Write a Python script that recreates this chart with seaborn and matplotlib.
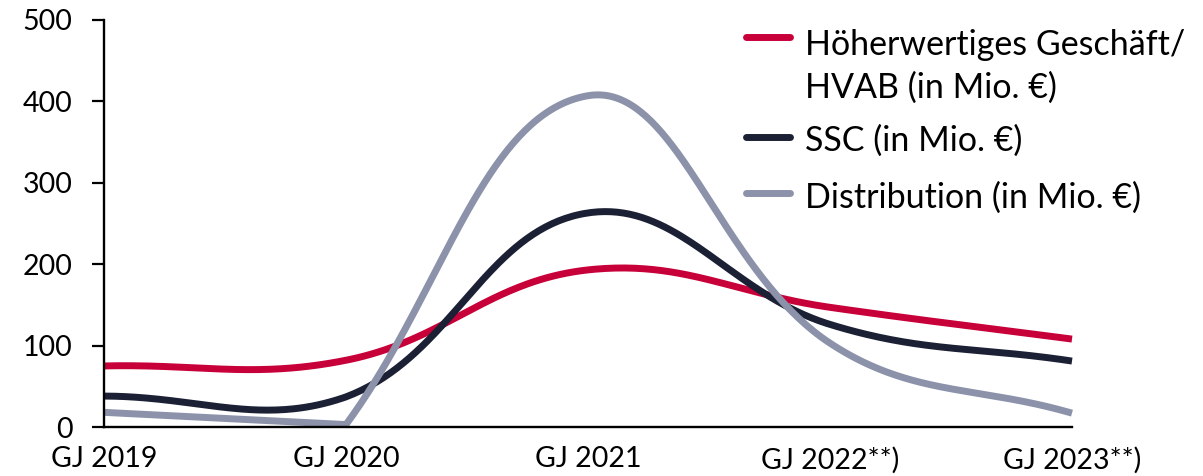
import numpy as np
import pandas as pd
import matplotlib
matplotlib.use("Agg")
import matplotlib.pyplot as plt
import seaborn as sns
from matplotlib.lines import Line2D

# =========================
# DATA
# =========================
YEARS = ["GJ 2019", "GJ 2020", "GJ 2021", "GJ 2022**)", "GJ 2023**)"]
HVAB = [75, 82, 193, 147, 108]
SSC = [38, 37, 263, 126, 81]
DISTRIBUTION = [18, 3, 407, 103, 17]

SERIES_NAMES = ["Höherwertiges Geschäft/\nHVAB (in Mio. €)", "SSC (in Mio. €)", "Distribution (in Mio. €)"]
COLORS = ["#C8003A", "#1B2034", "#8C92AA"]
# index where the smoothing restarts (the grey line has a corner at GJ 2020)
CURVE_BREAKS = [[], [], [1]]
Y_TICKS = [0, 100, 200, 300, 400, 500]

# =========================
# STYLE
# =========================
sns.set_style("ticks")
plt.rcParams["font.family"] = ["Lato", "DejaVu Sans"]

W, H = 1203, 476
LINE_W = 5.0
TENSION = 0.4


def bezier_segment(pts, bb, tension=TENSION, n=80):
    # cubic bezier smoothing in pixel space, control points capped to the plot area
    k = len(pts)
    cp1 = np.zeros_like(pts)
    cp2 = np.zeros_like(pts)
    for i in range(k):
        prev = pts[max(i - 1, 0)]
        cur = pts[i]
        nxt = pts[min(i + 1, k - 1)]
        d01 = np.hypot(*(cur - prev))
        d12 = np.hypot(*(nxt - cur))
        tot = d01 + d12
        s01 = d01 / tot if tot else 0
        s12 = d12 / tot if tot else 0
        cp1[i] = cur - tension * s01 * (nxt - prev)
        cp2[i] = cur + tension * s12 * (nxt - prev)
    for c in (cp1, cp2):
        c[:, 0] = np.clip(c[:, 0], bb.x0, bb.x1)
        c[:, 1] = np.clip(c[:, 1], bb.y0, bb.y1)
    t = np.linspace(0, 1, n)[:, None]
    out = [pts[:1]]
    for i in range(k - 1):
        p0, p1, p2, p3 = pts[i], cp2[i], cp1[i + 1], pts[i + 1]
        seg = (1 - t) ** 3 * p0 + 3 * (1 - t) ** 2 * t * p1 + 3 * (1 - t) * t ** 2 * p2 + t ** 3 * p3
        out.append(seg[1:])
    return np.vstack(out)


def spline_curve(xs, ys, ax, breaks=()):
    pts = ax.transData.transform(np.column_stack([xs, ys]))
    cuts = [0] + list(breaks) + [len(pts) - 1]
    parts = []
    for a, b in zip(cuts[:-1], cuts[1:]):
        seg = bezier_segment(pts[a:b + 1], ax.bbox)
        parts.append(seg if not parts else seg[1:])
    return ax.transData.inverted().transform(np.vstack(parts))


# =========================
# PLOT
# =========================
fig = plt.figure(figsize=(W / 100, H / 100), dpi=100)
ax = fig.add_axes([104 / W, 1 - 427 / H, (1072 - 104) / W, (427 - 20) / H])

x = np.arange(len(YEARS))
ax.set_xlim(0, len(YEARS) - 1)
ax.set_ylim(0, 500)

for vals, color, brk in zip([HVAB, SSC, DISTRIBUTION], COLORS, CURVE_BREAKS):
    curve = spline_curve(x, vals, ax, brk)
    df = pd.DataFrame({"x": curve[:, 0], "y": curve[:, 1]})
    sns.lineplot(data=df, x="x", y="y", sort=False, estimator=None, color=color,
                 linewidth=LINE_W, ax=ax, clip_on=False,
                 solid_capstyle="butt", solid_joinstyle="miter")

ax.set_xticks(x)
ax.set_xticklabels(YEARS)
ax.set_yticks(Y_TICKS)
ax.set_xlabel("")
ax.set_ylabel("")

sns.despine(ax=ax)
for side in ["left", "bottom"]:
    ax.spines[side].set_linewidth(1.7)
    ax.spines[side].set_color("black")

ax.tick_params(axis="y", length=8.6, width=1.6, pad=14, labelsize=20.5, colors="black")
ax.tick_params(axis="x", length=0, pad=14, labelsize=20.5, colors="black")

# =========================
# LEGEND (top right, overlapping the plot)
# =========================
handle_y = [1 - 37 / H, 1 - 137 / H, 1 - 193 / H]
text_base = [[1 - 55 / H, 1 - 98 / H], [1 - 151 / H], [1 - 208 / H]]
for name, color, hy, bases in zip(SERIES_NAMES, COLORS, handle_y, text_base):
    fig.add_artist(Line2D([745.5 / W, 789.5 / W], [hy, hy], transform=fig.transFigure,
                          color=color, linewidth=LINE_W, solid_capstyle="round"))
    for line, by in zip(name.split("\n"), bases):
        fig.text(805 / W, by, line, fontsize=24.5, va="baseline", ha="left", color="black")

fig.savefig("out.png", dpi=100)
plt.close(fig)
